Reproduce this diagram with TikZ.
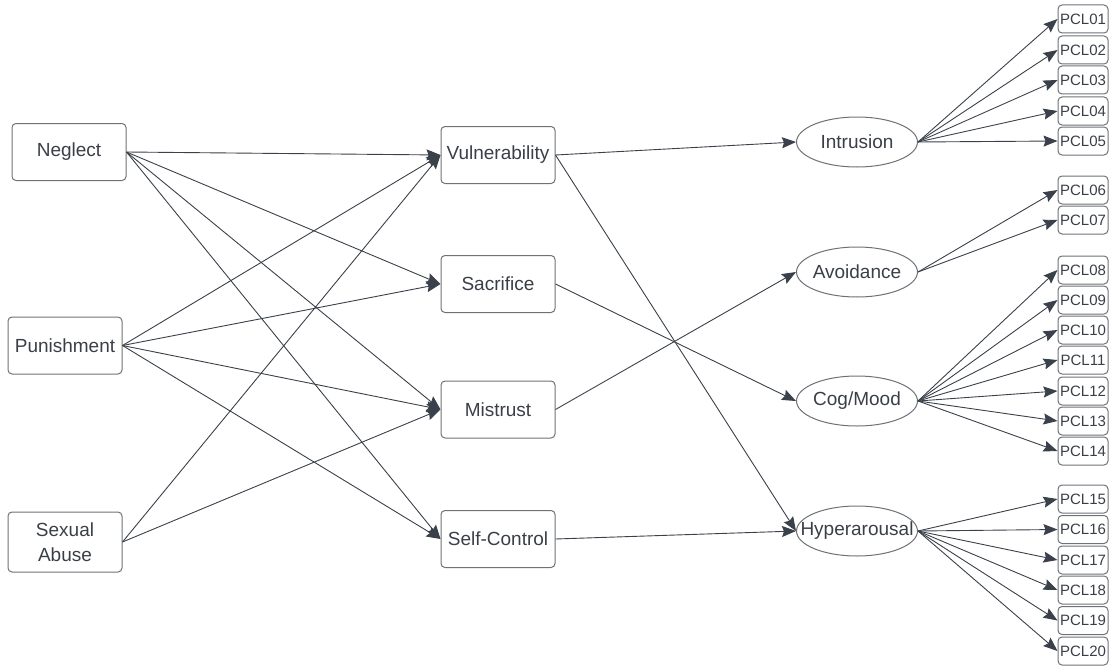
\documentclass[tikz,border=0pt]{standalone}
\usepackage{fontspec}
\setmainfont{Liberation Sans}
\usetikzlibrary{arrows.meta,shapes.geometric}
\definecolor{ln}{HTML}{3A414A}
\definecolor{bd}{HTML}{6E7278}
\definecolor{tx}{HTML}{3A3F47}
\begin{document}
\begin{tikzpicture}[x=1pt,y=-1pt,
  box/.style={draw=bd, line width=1pt, rounded corners=4pt, minimum width=114pt, minimum height=57pt, inner sep=0pt, font=\fontsize{19}{25}\selectfont, text=tx, align=center},
  ell/.style={ellipse, draw=bd, line width=1pt, minimum width=121pt, minimum height=50pt, inner sep=0pt, font=\fontsize{19}{22}\selectfont, text=tx},
  pcl/.style={draw=bd, line width=1pt, rounded corners=4pt, minimum width=50pt, minimum height=28pt, inner sep=0pt, font=\fontsize{15}{18}\selectfont, text=tx},
  arr/.style={draw=ln, line width=0.9pt, -{Stealth[length=14pt,width=11pt,inset=2pt]}}]
\useasboundingbox (0,0) rectangle (1112,669);
% left
\node[box] (neg) at (69,152) {Neglect};
\node[box] (pun) at (65,345.5) {Punishment};
\node[box, minimum height=60pt] (sex) at (65,542) {Sexual\\Abuse};
% middle
\node[box] (vul) at (498,155) {Vulnerability};
\node[box] (sac) at (498,284) {Sacrifice};
\node[box] (mis) at (498,409.5) {Mistrust};
\node[box] (sel) at (498,539) {Self-Control};
% ellipses
\node[ell] (int) at (857,142) {\makebox[0pt]{Intrusion}};
\node[ell] (avo) at (857,272) {\makebox[0pt]{Avoidance}};
\node[ell] (cog) at (857,401) {\makebox[0pt]{Cog/Mood}};
\node[ell] (hyp) at (857,531) {\makebox[0pt]{Hyperarousal}};
% PCL boxes
\foreach \n/\y in {01/19,02/50,03/80,04/111,05/141,06/190,07/220,08/270,09/300,10/330,11/360,12/391,13/421,14/451,15/499,16/529.5,17/560,18/590,19/620.5,20/651}
  \node[pcl] (p\n) at (1083,\y) {PCL\n};
% arrows left -> middle
\foreach \t in {vul,sac,mis,sel} \draw[arr] (neg.east) -- (\t.west);
\foreach \t in {vul,sac,mis,sel} \draw[arr] (pun.east) -- (\t.west);
\foreach \t in {vul,mis} \draw[arr] (sex.east) -- (\t.west);
% middle -> ellipses
\draw[arr] (vul.east) -- (int.west);
\draw[arr] (vul.east) -- (hyp.west);
\draw[arr] (sac.east) -- (cog.west);
\draw[arr] (mis.east) -- (avo.west);
\draw[arr] (sel.east) -- (hyp.west);
% ellipses -> PCL
\foreach \n in {01,02,03,04,05} \draw[arr] (int.east) -- (p\n.west);
\foreach \n in {06,07} \draw[arr] (avo.east) -- (p\n.west);
\foreach \n in {08,09,10,11,12,13,14} \draw[arr] (cog.east) -- (p\n.west);
\foreach \n in {15,16,17,18,19,20} \draw[arr] (hyp.east) -- (p\n.west);
\end{tikzpicture}
\end{document}
